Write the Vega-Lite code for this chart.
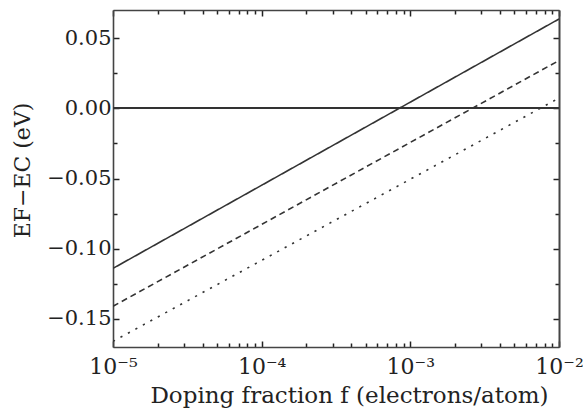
{
  "$schema": "https://vega.github.io/schema/vega-lite/v6.json",
  "width": 446,
  "height": 337,
  "autosize": {"type": "none"},
  "padding": {"left": 113, "top": 10, "right": 24, "bottom": 62},
  "background": "white",
  "config": {"view": {"stroke": null}, "font": "DejaVu Serif"},
  "data": {"values": [
    {"series": "case 1", "f": 0.00001, "E": -0.114},
    {"series": "case 1", "f": 0.0001, "E": -0.0548},
    {"series": "case 1", "f": 0.001, "E": 0.0044},
    {"series": "case 1", "f": 0.01, "E": 0.0636},
    {"series": "case 2", "f": 0.00001, "E": -0.141},
    {"series": "case 2", "f": 0.0001, "E": -0.0827},
    {"series": "case 2", "f": 0.001, "E": -0.0243},
    {"series": "case 2", "f": 0.01, "E": 0.034},
    {"series": "case 3", "f": 0.00001, "E": -0.166},
    {"series": "case 3", "f": 0.0001, "E": -0.1083},
    {"series": "case 3", "f": 0.001, "E": -0.0505},
    {"series": "case 3", "f": 0.01, "E": 0.0073}
  ]},
  "resolve": {"axis": {"x": "independent", "y": "independent"}},
  "layer": [
    {
      "mark": {"type": "line", "color": "#333", "strokeWidth": 1.6, "clip": true},
      "encoding": {
        "x": {
          "field": "f", "type": "quantitative",
          "scale": {"type": "log", "domain": [0.00001, 0.01], "nice": false},
          "axis": {
            "orient": "bottom",
            "title": "Doping fraction f (electrons/atom)",
            "titleFont": "DejaVu Serif", "titleFontSize": 23, "titleFontWeight": "normal", "titleColor": "#222",
            "titleBaseline": "middle", "titleY": 48, "titleX": 236,
            "values": [0.00001,0.00002,0.00003,0.00004,0.00005,0.00006,0.00007,0.00008,0.00009,0.0001,0.0002,0.0003,0.0004,0.0005,0.0006,0.0007,0.0008,0.0009,0.001,0.002,0.003,0.004,0.005,0.006,0.007,0.008,0.009,0.01],
            "labelExpr": "abs(log(datum.value)/LN10 - round(log(datum.value)/LN10)) > 0.001 ? '' : round(log(datum.value)/LN10) == -5 ? '10⁻⁵' : round(log(datum.value)/LN10) == -4 ? '10⁻⁴' : round(log(datum.value)/LN10) == -3 ? '10⁻³' : '10⁻²'",
            "labelFont": "DejaVu Serif", "labelFontSize": 22, "labelColor": "#222",
            "labelFlush": false, "labelOverlap": false, "labelPadding": 15,
            "grid": false,
            "domainColor": "#444", "domainWidth": 1.6,
            "ticks": true, "tickColor": "#222", "tickWidth": 1.5,
            "tickSize": {"condition": {"test": "abs(log(datum.value)/LN10 - round(log(datum.value)/LN10)) < 0.001", "value": -6}, "value": -4}
          }
        },
        "y": {
          "field": "E", "type": "quantitative",
          "scale": {"domain": [-0.17, 0.07], "nice": false, "zero": false},
          "axis": {
            "orient": "left",
            "title": "EF−EC (eV)",
            "titleFont": "DejaVu Serif", "titleFontSize": 22, "titleFontWeight": "normal", "titleColor": "#222",
            "titleBaseline": "middle", "titleX": -91, "titleY": 160,
            "values": [-0.15,-0.125,-0.1,-0.075,-0.05,-0.025,0,0.025,0.05],
            "labelExpr": "abs(datum.value*20 - round(datum.value*20)) < 0.001 ? format(datum.value, '.2f') : ''",
            "labelFont": "DejaVu Serif", "labelFontSize": 21, "labelColor": "#222",
            "labelOverlap": false, "labelPadding": 8,
            "grid": false,
            "domainColor": "#444", "domainWidth": 1.6,
            "ticks": true, "tickColor": "#222", "tickWidth": 1.5,
            "tickSize": {"condition": {"test": "abs(datum.value*20 - round(datum.value*20)) < 0.001", "value": -6}, "value": -4}
          }
        },
        "strokeDash": {
          "field": "series", "type": "nominal",
          "scale": {"domain": ["case 1", "case 2", "case 3"], "range": [[1, 0], [6, 4], [2.2, 6.3]]},
          "legend": null
        }
      }
    },
    {
      "mark": {"type": "rule", "color": "#333", "strokeWidth": 1.6},
      "encoding": {
        "y": {"datum": 0, "type": "quantitative", "axis": null}
      }
    },
    {
      "mark": {"type": "line", "opacity": 0},
      "encoding": {
        "x": {
          "field": "f", "type": "quantitative",
          "axis": {
            "orient": "top", "title": null, "labels": false, "grid": false,
            "values": [0.00001,0.00002,0.00003,0.00004,0.00005,0.00006,0.00007,0.00008,0.00009,0.0001,0.0002,0.0003,0.0004,0.0005,0.0006,0.0007,0.0008,0.0009,0.001,0.002,0.003,0.004,0.005,0.006,0.007,0.008,0.009,0.01],
            "domainColor": "#444", "domainWidth": 1.6,
            "ticks": true, "tickColor": "#222", "tickWidth": 1.5,
            "tickSize": {"condition": {"test": "abs(log(datum.value)/LN10 - round(log(datum.value)/LN10)) < 0.001", "value": -6}, "value": -4}
          }
        },
        "y": {
          "field": "E", "type": "quantitative",
          "axis": {
            "orient": "right", "title": null, "labels": false, "grid": false,
            "values": [-0.15,-0.125,-0.1,-0.075,-0.05,-0.025,0,0.025,0.05],
            "domainColor": "#444", "domainWidth": 2,
            "ticks": true, "tickColor": "#222", "tickWidth": 1.5,
            "tickSize": {"condition": {"test": "abs(datum.value*20 - round(datum.value*20)) < 0.001", "value": -6}, "value": -4}
          }
        },
        "detail": {"field": "series", "type": "nominal"}
      }
    }
  ]
}
